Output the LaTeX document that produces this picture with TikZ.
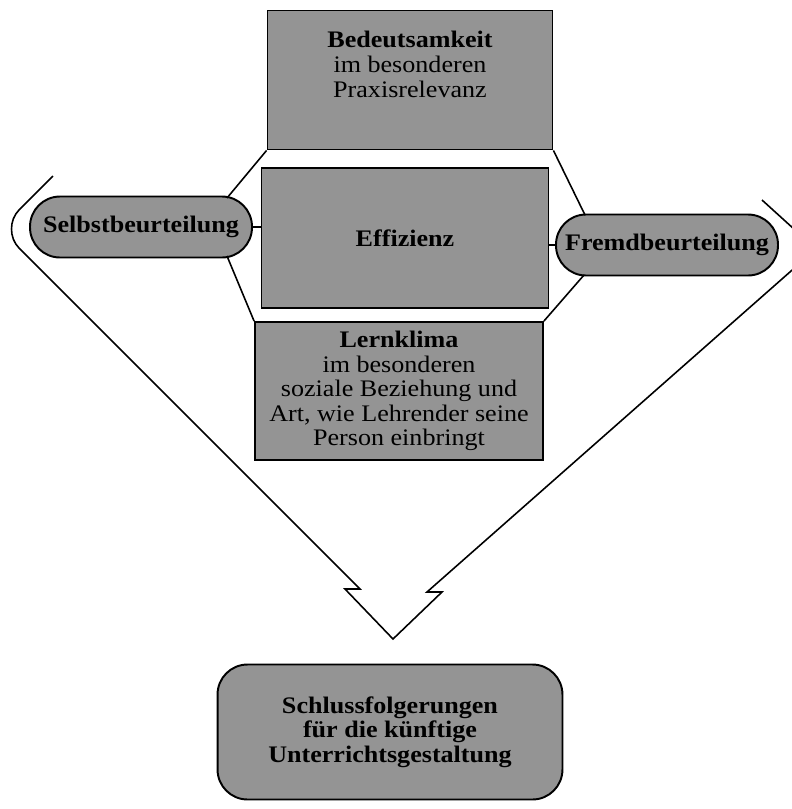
\documentclass[tikz,border=0pt]{standalone}
\usepackage{fontspec}
\setmainfont[FakeStretch=1.1]{Liberation Serif}
\newcommand\diagfont{\fontsize{13.5}{14}\selectfont}
\definecolor{shade}{RGB}{148,148,148}
\begin{document}
\begin{tikzpicture}[x=0.02cm,y=-0.02cm,
  box/.style={draw=black,line width=1.1pt,fill=shade,inner sep=0pt,align=center,font=\diagfont},
  pill/.style={box,rounded corners=0.6cm,minimum width=4.44cm,minimum height=1.22cm},
  link/.style={draw=black,line width=0.9pt},
]
\useasboundingbox (0,0) rectangle (792,809);
\clip (0,0) rectangle (792,809);

\node[box,minimum width=5.7cm,minimum height=2.78cm] (bed) at (410,80)
  {\textbf{Bedeutsamkeit}\\im besonderen\\Praxisrelevanz\\[4pt]};
\node[box,minimum width=5.74cm,minimum height=2.8cm] (eff) at (405,238)
  {\textbf{Effizienz}};
\node[box,minimum width=5.76cm,minimum height=2.76cm] (lern) at (399,391)
  {\textbf{Lernklima}\\im besonderen\\soziale Beziehung und\\Art, wie Lehrender seine\\Person einbringt};
\node[pill] (selbst) at (141,227) {\textbf{Selbstbeurteilung}};
\node[pill] (fremd) at (667,245) {\textbf{Fremdbeurteilung}};
\node[box,rounded corners=0.6cm,minimum width=6.9cm,minimum height=2.7cm] (schluss) at (390,732)
  {\textbf{Schlussfolgerungen}\\\textbf{für die künftige}\\\textbf{Unterrichtsgestaltung}};

\coordinate (s1) at (227,198);
\coordinate (s2) at (227,256);
\coordinate (f1) at (585,215);
\coordinate (f2) at (584,275);

\draw[link] (bed.south west) -- (s1);
\draw[link] (s2) -- (lern.north west);
\draw[link] (bed.south east) -- (f1);
\draw[link] (f2) -- (lern.north east);
\draw[link] (selbst.east) -- (selbst.east -| eff.west);
\draw[link] (fremd.west) -- (fremd.west -| eff.east);

\draw[link,line join=miter] (53,176) -- (19,210) .. controls (9,220) and (9,238) .. (19,248)
  -- (360,589) -- (345,589) -- (393,639) -- (442,592) -- (427,592)
  -- (816,249) -- (762,200);
\end{tikzpicture}
\end{document}
